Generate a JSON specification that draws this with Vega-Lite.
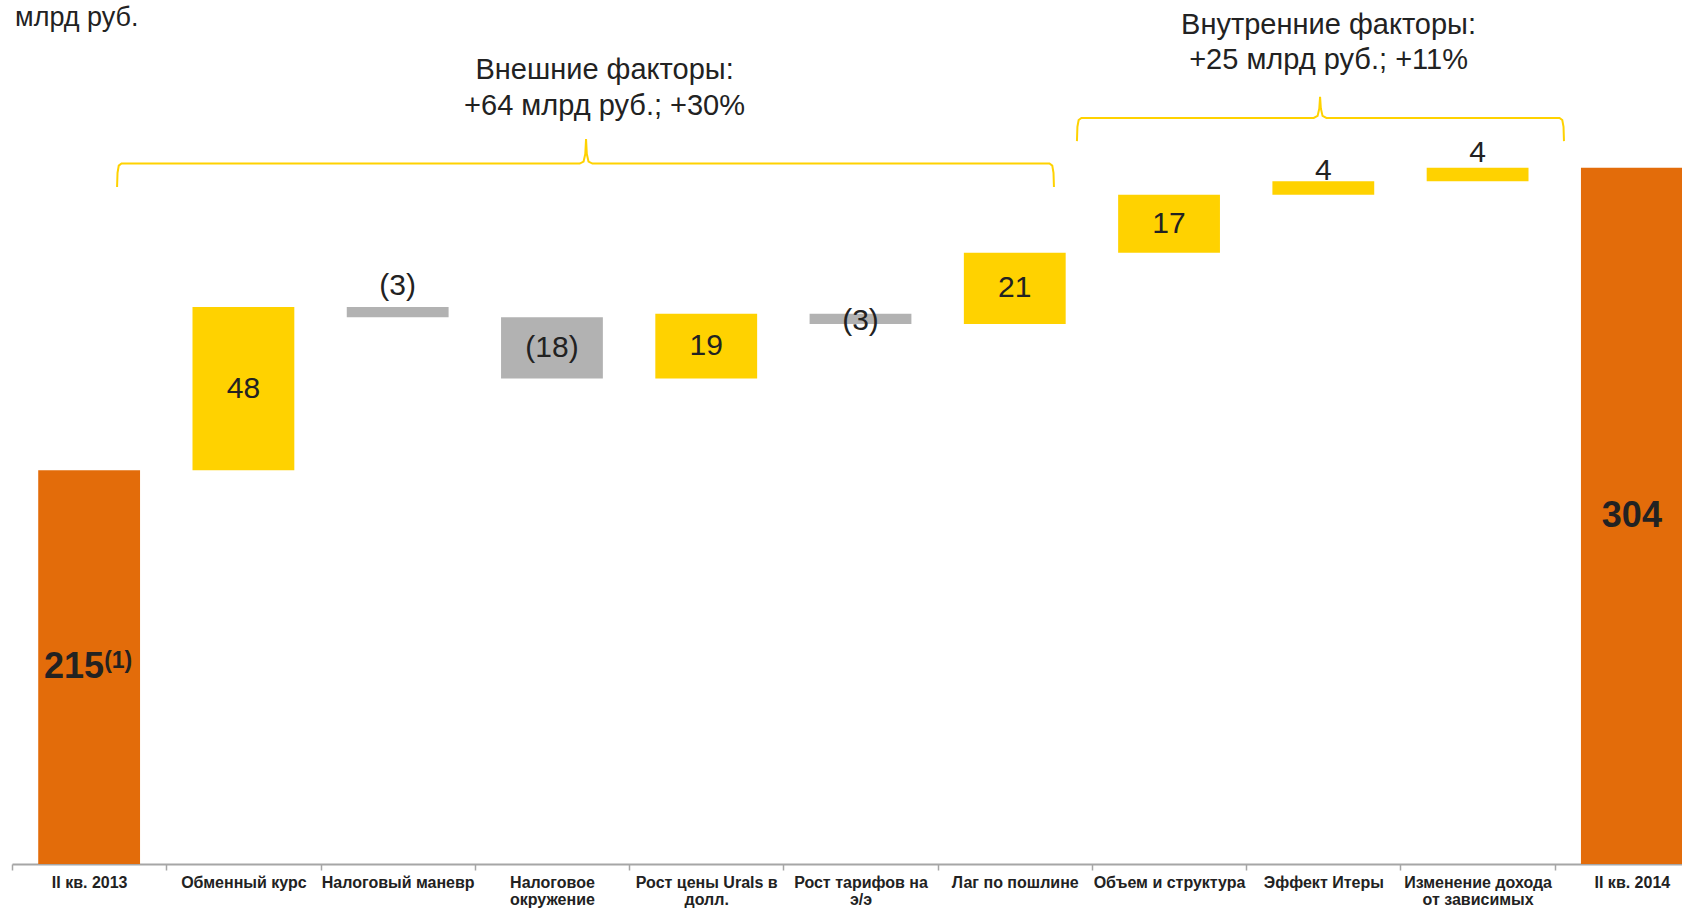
{
  "$schema": "https://vega.github.io/schema/vega-lite/v6.json",
  "width": 1670,
  "height": 864,
  "autosize": {"type": "none"},
  "padding": {"left": 12, "top": 0, "right": 0, "bottom": 45},
  "background": "white",
  "config": {"view": {"stroke": null}, "font": "Liberation Sans"},
  "datasets": {
    "bars": [
      {"order": 0, "cat": "II кв. 2013", "start": 0, "end": 215, "type": "total", "label": "215", "note": "(1)"},
      {"order": 1, "cat": "Обменный курс", "start": 215, "end": 263, "type": "up", "label": "48", "note": ""},
      {"order": 2, "cat": "Налоговый маневр", "start": 263, "end": 260, "type": "down", "label": "(3)", "note": ""},
      {"order": 3, "cat": "Налоговое|окружение", "start": 260, "end": 242, "type": "down", "label": "(18)", "note": ""},
      {"order": 4, "cat": "Рост цены Urals в|долл.", "start": 242, "end": 261, "type": "up", "label": "19", "note": ""},
      {"order": 5, "cat": "Рост тарифов на|э/э", "start": 261, "end": 258, "type": "down", "label": "(3)", "note": ""},
      {"order": 6, "cat": "Лаг по пошлине", "start": 258, "end": 279, "type": "up", "label": "21", "note": ""},
      {"order": 7, "cat": "Объем и структура", "start": 279, "end": 296, "type": "up", "label": "17", "note": ""},
      {"order": 8, "cat": "Эффект Итеры", "start": 296, "end": 300, "type": "up", "label": "4", "note": ""},
      {"order": 9, "cat": "Изменение дохода|от зависимых", "start": 300, "end": 304, "type": "up", "label": "4", "note": ""},
      {"order": 10, "cat": "II кв. 2014", "start": 0, "end": 304, "type": "total", "label": "304", "note": ""}
    ],
    "brackets": [
      {"g": "ext", "i": 0, "bx": 0.681, "by": 298.3},
      {"g": "ext", "i": 1, "bx": 0.684, "by": 302.5},
      {"g": "ext", "i": 2, "bx": 0.692, "by": 304.6},
      {"g": "ext", "i": 3, "bx": 0.71, "by": 305.2},
      {"g": "ext", "i": 4, "bx": 3.68, "by": 305.2},
      {"g": "ext", "i": 5, "bx": 3.705, "by": 305.8},
      {"g": "ext", "i": 6, "bx": 3.716, "by": 308.0},
      {"g": "ext", "i": 7, "bx": 3.721, "by": 312.4},
      {"g": "ext", "i": 8, "bx": 3.726, "by": 308.0},
      {"g": "ext", "i": 9, "bx": 3.737, "by": 305.8},
      {"g": "ext", "i": 10, "bx": 3.762, "by": 305.2},
      {"g": "ext", "i": 11, "bx": 6.725, "by": 305.2},
      {"g": "ext", "i": 12, "bx": 6.743, "by": 304.6},
      {"g": "ext", "i": 13, "bx": 6.751, "by": 302.5},
      {"g": "ext", "i": 14, "bx": 6.754, "by": 298.3},
      {"g": "int", "i": 0, "bx": 6.903, "by": 311.8},
      {"g": "int", "i": 1, "bx": 6.906, "by": 316.0},
      {"g": "int", "i": 2, "bx": 6.914, "by": 318.0},
      {"g": "int", "i": 3, "bx": 6.932, "by": 318.6},
      {"g": "int", "i": 4, "bx": 8.438, "by": 318.6},
      {"g": "int", "i": 5, "bx": 8.463, "by": 319.2},
      {"g": "int", "i": 6, "bx": 8.474, "by": 321.4},
      {"g": "int", "i": 7, "bx": 8.479, "by": 324.8},
      {"g": "int", "i": 8, "bx": 8.484, "by": 321.4},
      {"g": "int", "i": 9, "bx": 8.495, "by": 319.2},
      {"g": "int", "i": 10, "bx": 8.52, "by": 318.6},
      {"g": "int", "i": 11, "bx": 10.031, "by": 318.6},
      {"g": "int", "i": 12, "bx": 10.049, "by": 318.0},
      {"g": "int", "i": 13, "bx": 10.057, "by": 316.0},
      {"g": "int", "i": 14, "bx": 10.06, "by": 311.8}
    ],
    "notes": [
      {"kind": "unit", "tx": 0.02, "ty": 345.7, "t": "млрд руб."},
      {"kind": "head", "tx": 3.841, "ty": 330.1, "t": "Внешние факторы:"},
      {"kind": "head", "tx": 3.841, "ty": 319.5, "t": "+64 млрд руб.; +30%"},
      {"kind": "head", "tx": 8.534, "ty": 343.2, "t": "Внутренние факторы:"},
      {"kind": "head", "tx": 8.534, "ty": 332.9, "t": "+25 млрд руб.; +11%"}
    ]
  },
  "layer": [
    {
      "data": {"name": "bars"},
      "transform": [
        {"calculate": "datum.type == 'total' ? (99.2 + datum.end) / 2 : datum.order == 5 ? (datum.start + datum.end) / 2 - 0.7 : datum.order == 2 ? max(datum.start, datum.end) + 6.2 : datum.order == 8 ? max(datum.start, datum.end) + 2.9 : datum.order == 9 ? max(datum.start, datum.end) + 4.3 : (datum.start + datum.end) / 2", "as": "ly"}
      ],
      "layer": [
        {
          "mark": {"type": "bar", "width": {"band": 0.66}},
          "encoding": {
            "x": {
              "field": "cat", "type": "nominal", "sort": null,
              "scale": {"range": [0, 1697], "paddingInner": 0, "paddingOuter": 0},
              "axis": {
                "title": null,
                "labelExpr": "split(datum.label, '|')",
                "tickBand": "extent",
                "domainColor": "#A6A6A6", "domainWidth": 2,
                "tickColor": "#A6A6A6", "tickWidth": 1.5, "tickSize": 6,
                "labelFont": "Liberation Sans", "labelFontSize": 16, "labelFontWeight": "bold",
                "labelColor": "#222222", "labelPadding": 4, "labelLineHeight": 17,
                "labelAngle": 0, "labelLimit": 400, "labelOverlap": false, "labelBound": false
              }
            },
            "y": {"field": "start", "type": "quantitative", "scale": {"domain": [99.2, 353.3], "clamp": true, "nice": false, "zero": false}, "axis": null},
            "y2": {"field": "end"},
            "color": {"field": "type", "type": "nominal", "scale": {"domain": ["total", "up", "down"], "range": ["#E36C0A", "#FFD200", "#B2B2B2"]}, "legend": null}
          }
        },
        {
          "transform": [{"filter": "datum.type != 'total'"}],
          "mark": {"type": "text", "fontSize": 30, "color": "#222222", "baseline": "middle", "align": "center"},
          "encoding": {
            "x": {"field": "cat", "type": "nominal", "sort": null},
            "y": {"field": "ly", "type": "quantitative"},
            "text": {"field": "label"}
          }
        },
        {
          "transform": [{"filter": "datum.type == 'total' && datum.note != ''"}],
          "mark": {"type": "text", "fontSize": 36, "fontWeight": "bold", "color": "#222222", "baseline": "middle", "align": "right", "dx": 15},
          "encoding": {
            "x": {"field": "cat", "type": "nominal", "sort": null},
            "y": {"field": "ly", "type": "quantitative"},
            "text": {"field": "label"}
          }
        },
        {
          "transform": [{"filter": "datum.type == 'total' && datum.note != ''"}],
          "mark": {"type": "text", "fontSize": 23, "fontWeight": "bold", "color": "#222222", "baseline": "middle", "align": "left", "dx": 15, "dy": -6},
          "encoding": {
            "x": {"field": "cat", "type": "nominal", "sort": null},
            "y": {"field": "ly", "type": "quantitative"},
            "text": {"field": "note"}
          }
        },
        {
          "transform": [{"filter": "datum.type == 'total' && datum.note == ''"}],
          "mark": {"type": "text", "fontSize": 36, "fontWeight": "bold", "color": "#222222", "baseline": "middle", "align": "center"},
          "encoding": {
            "x": {"field": "cat", "type": "nominal", "sort": null},
            "y": {"field": "ly", "type": "quantitative"},
            "text": {"field": "label"}
          }
        }
      ]
    },
    {
      "layer": [
        {
          "data": {"name": "brackets"},
          "mark": {"type": "line", "color": "#FFD200", "strokeWidth": 2},
          "encoding": {
            "x": {"field": "bx", "type": "quantitative", "scale": {"domain": [0, 11], "range": [0, 1697], "nice": false, "zero": false}, "axis": null},
            "y": {"field": "by", "type": "quantitative", "scale": {"domain": [99.2, 353.3], "clamp": true, "nice": false, "zero": false}, "axis": null},
            "detail": {"field": "g"},
            "order": {"field": "i"}
          }
        },
        {
          "data": {"name": "notes"},
          "transform": [{"filter": "datum.kind == 'head'"}],
          "mark": {"type": "text", "fontSize": 29, "color": "#222222", "align": "center", "baseline": "alphabetic"},
          "encoding": {
            "x": {"field": "tx", "type": "quantitative"},
            "y": {"field": "ty", "type": "quantitative"},
            "text": {"field": "t"}
          }
        },
        {
          "data": {"name": "notes"},
          "transform": [{"filter": "datum.kind == 'unit'"}],
          "mark": {"type": "text", "fontSize": 27, "color": "#222222", "align": "left", "baseline": "alphabetic"},
          "encoding": {
            "x": {"field": "tx", "type": "quantitative"},
            "y": {"field": "ty", "type": "quantitative"},
            "text": {"field": "t"}
          }
        }
      ]
    }
  ],
  "resolve": {"scale": {"x": "independent"}, "axis": {"x": "independent"}}
}
